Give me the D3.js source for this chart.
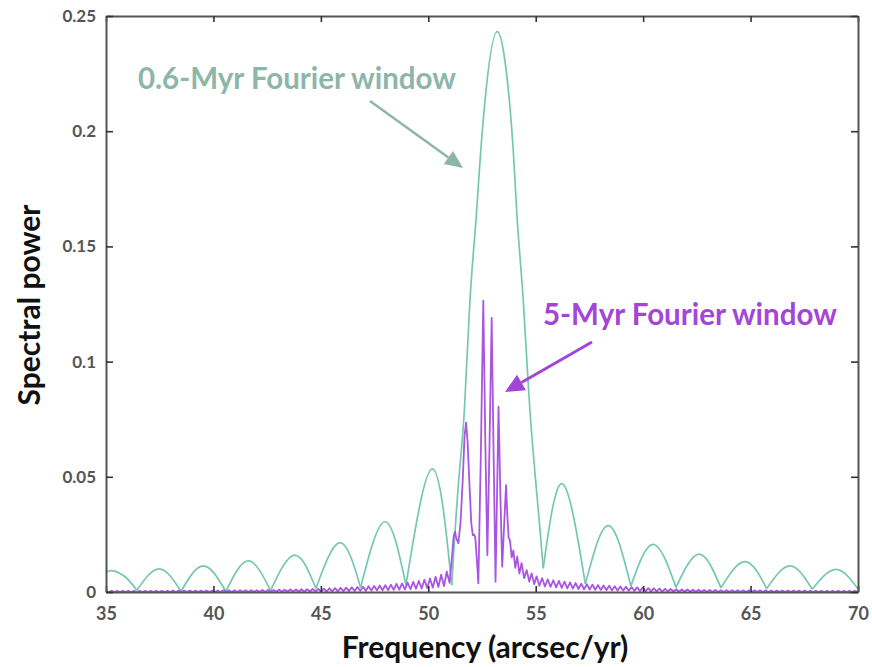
<!DOCTYPE html>
<html><head><meta charset="utf-8">
<script src="https://cdn.jsdelivr.net/npm/d3@7"></script>
<style>body{margin:0;background:#fff}svg{display:block}</style>
</head><body><svg id="c" width="872" height="667"></svg>
<script>
// ---------- data ----------
const xTicks = [35, 40, 45, 50, 55, 60, 65, 70];
const xTickLabels = ["35", "40", "45", "50", "55", "60", "65", "70"];
const yTicks = [0, 0.05, 0.1, 0.15, 0.2, 0.25];
const yTickLabels = ["0", "0.05", "0.1", "0.15", "0.2", "0.25"];

// 0.6-Myr window spectrum: lobes between successive minima [freq, power]
const greenLobes = [
  [[35.0,.0086],[35.33,.0092],[35.9,.0065],[36.43,.0008]],
  [[36.43,.0008],[37.48,.0100],[38.49,.0003]],
  [[38.49,.0003],[39.53,.0113],[40.58,.0003]],
  [[40.58,.0003],[41.62,.0135],[42.66,.0006]],
  [[42.66,.0006],[43.78,.0160],[44.77,.0015]],
  [[44.77,.0015],[45.89,.0214],[46.85,.0020]],
  [[46.85,.0020],[47.98,.0305],[48.96,.0030]],
  [[48.96,.0030],[50.19,.0534],[51.09,.0030]],
  [[51.09,.0030],[51.21,.0210],[51.43,.0500],[51.68,.0790],[51.94,.1267],[52.22,.1615],[52.56,.2050],[53.21,.2432],[53.85,.2050],[54.14,.1615],[54.42,.1267],[54.73,.0790],[55.12,.0356],[55.35,.0103]],
  [[55.35,.0103],[56.24,.0470],[57.31,.0035]],
  [[57.31,.0035],[58.38,.0288],[59.43,.0026]],
  [[59.43,.0026],[60.47,.0207],[61.53,.0020]],
  [[61.53,.0020],[62.61,.0164],[63.62,.0018]],
  [[63.62,.0018],[64.74,.0132],[65.75,.0015]],
  [[65.75,.0015],[66.84,.0113],[67.87,.0012]],
  [[67.87,.0012],[68.97,.0098],[70.0,.0013]]
];

// 5-Myr window spectrum [freq, power]
const purpleTailLeft = [
  [35.00,.0005],[35.13,0],[35.26,.0005],[35.39,0],[35.52,.0005],[35.65,0],[35.78,.0005],[35.91,0],
  [36.04,.0005],[36.17,0],[36.30,.0005],[36.43,0],[36.56,.0005],[36.69,0],[36.82,.0005],[36.95,0],
  [37.08,.0005],[37.21,0],[37.34,.0005],[37.47,0],[37.60,.0005],[37.73,0],[37.86,.0005],[37.99,0],
  [38.12,.0006],[38.25,0],[38.38,.0006],[38.51,0],[38.64,.0006],[38.77,0],[38.90,.0006],[39.03,0],
  [39.16,.0006],[39.29,0],[39.42,.0006],[39.55,0],[39.68,.0006],[39.81,0],[39.94,.0006],[40.07,0],
  [40.20,.0006],[40.33,0],[40.46,.0007],[40.59,0],[40.72,.0007],[40.85,0],[40.98,.0007],[41.11,0],
  [41.24,.0008],[41.37,0],[41.50,.0008],[41.63,0],[41.76,.0008],[41.89,0],[42.02,.0008],[42.15,0],
  [42.28,.0009],[42.41,0],[42.54,.0009],[42.67,0],[42.80,.0009],[42.93,.0001],[43.06,.0010],[43.19,.0001],
  [43.32,.0010],[43.45,.0001],[43.58,.0011],[43.71,.0001],[43.84,.0011],[43.97,.0001],[44.10,.0012],[44.23,.0001],
  [44.36,.0012],[44.49,.0002],[44.62,.0013],[44.75,.0002],[44.88,.0014],[45.01,.0002],[45.14,.0015],[45.27,.0002],
  [45.40,.0016],[45.53,.0003],[45.66,.0017],[45.79,.0003],[45.92,.0018],[46.05,.0003],[46.18,.0019],[46.31,.0004],
  [46.44,.0020],[46.57,.0004],[46.70,.0022],[46.83,.0005],[46.96,.0023],[47.09,.0005],[47.22,.0025],[47.35,.0006],
  [47.48,.0026],[47.61,.0007],[47.74,.0028],[47.87,.0007],[48.00,.0030],[48.13,.0008],[48.26,.0032],[48.39,.0009],
  [48.52,.0035],[48.65,.0010],[48.78,.0037],[48.91,.0011],[49.04,.0040],[49.17,.0012],[49.30,.0044],[49.43,.0014],
  [49.56,.0048],[49.69,.0015],[49.82,.0053],[49.95,.0017],[50.08,.0059],[50.21,.0019],[50.34,.0066],[50.47,.0022],
  [50.60,.0075],[50.73,.0026],[50.86,.0088]
];
const purpleCore = [
  [50.99,.0040],[51.10,.0150],[51.18,.0240],[51.24,.0262],[51.31,.0232],[51.40,.0212],[51.50,.0300],[51.60,.0480],
  [51.69,.0680],[51.76,.0735],[51.83,.0650],[51.91,.0480],[52.00,.0300],[52.07,.0247],[52.13,.0250],[52.19,.0235],
  [52.26,.0140],[52.33,.0038],[52.45,.0620],[52.56,.1264],[52.66,.0620],[52.75,.0160],[52.85,.0640],[52.95,.1190],
  [53.04,.0600],[53.13,.0045],[53.20,.0420],[53.27,.0804],[53.35,.0440],[53.44,.0110],[53.53,.0290],[53.62,.0464],
  [53.68,.0330],[53.74,.0235],[53.80,.0226],[53.88,.0150],[53.96,.0180],[54.05,.0105],[54.14,.0153],[54.24,.0080],
  [54.34,.0125],[54.46,.0060],[54.58,.0095],[54.70,.0045],[54.81,.0081],[54.93,.0034],[55.04,.0068],[55.17,.0027],
  [55.30,.0060]
];
const purpleTailRight = [
  [55.43,.0024],[55.56,.0055],[55.69,.0022],[55.82,.0051],[55.95,.0020],[56.08,.0048],[56.21,.0018],[56.34,.0045],
  [56.47,.0016],[56.60,.0042],[56.73,.0015],[56.86,.0039],[56.99,.0013],[57.12,.0036],[57.25,.0012],[57.38,.0034],
  [57.51,.0011],[57.64,.0032],[57.77,.0010],[57.90,.0030],[58.03,.0009],[58.16,.0028],[58.29,.0008],[58.42,.0027],
  [58.55,.0007],[58.68,.0025],[58.81,.0006],[58.94,.0024],[59.07,.0006],[59.20,.0023],[59.33,.0005],[59.46,.0022],
  [59.59,.0005],[59.72,.0020],[59.85,.0004],[59.98,.0019],[60.11,.0004],[60.24,.0017],[60.37,.0003],[60.50,.0016],
  [60.63,.0003],[60.76,.0015],[60.89,.0002],[61.02,.0014],[61.15,.0002],[61.28,.0013],[61.41,.0002],[61.54,.0012],
  [61.67,.0001],[61.80,.0011],[61.93,.0001],[62.06,.0011],[62.19,.0001],[62.32,.0010],[62.45,0],[62.58,.0010],
  [62.71,0],[62.84,.0009],[62.97,0],[63.10,.0009],[63.23,0],[63.36,.0009],[63.49,0],[63.62,.0008],
  [63.75,0],[63.88,.0008],[64.01,0],[64.14,.0008],[64.27,0],[64.40,.0008],[64.53,0],[64.66,.0007],
  [64.79,0],[64.92,.0007],[65.05,0],[65.18,.0007],[65.31,0],[65.44,.0007],[65.57,0],[65.70,.0007],
  [65.83,0],[65.96,.0006],[66.09,0],[66.22,.0006],[66.35,0],[66.48,.0006],[66.61,0],[66.74,.0006],
  [66.87,0],[67.00,.0006],[67.13,0],[67.26,.0006],[67.39,0],[67.52,.0006],[67.65,0],[67.78,.0005],
  [67.91,0],[68.04,.0005],[68.17,0],[68.30,.0005],[68.43,0],[68.56,.0005],[68.69,0],[68.82,.0005],
  [68.95,0],[69.08,.0005],[69.21,0],[69.34,.0005],[69.47,0],[69.60,.0005],[69.73,0],[69.86,.0005],
  [69.99,0]
];
const purpleSeries = purpleTailLeft.concat(purpleCore, purpleTailRight);

const xTitle = "Frequency (arcsec/yr)";
const yTitle = "Spectral power";
const greenLabel = "0.6-Myr Fourier window";
const purpleLabel = "5-Myr Fourier window";

// ---------- drawing ----------
const svg = d3.select("#c");
const x = d3.scaleLinear().domain([35, 70]).range([106, 858]);
const y = d3.scaleLinear().domain([0, 0.25]).range([592, 16]);

const FONT = "Lato, 'Open Sans', sans-serif";
const GREEN = "#76c7b2", GREEN_TXT = "#8db6a9", PURPLE = "#a955e0", PURPLE_TXT = "#a445d8";

// green curve (each lobe a natural spline segment)
const gLine = d3.line().x(d => x(d[0])).y(d => y(d[1])).curve(d3.curveNatural);
svg.append("g").selectAll("path").data(greenLobes).join("path")
  .attr("d", gLine).attr("fill", "none").attr("stroke", GREEN).attr("stroke-width", 1.7);

// purple curve
const pLine = d3.line().x(d => x(d[0])).y(d => y(d[1]));
svg.append("path").datum(purpleSeries).attr("d", pLine)
  .attr("fill", "none").attr("stroke", PURPLE).attr("stroke-width", 1.8)
  .attr("stroke-linejoin", "round");

// axes (inward ticks, mirrored)
function styleAxis(g) {
  g.select(".domain").attr("stroke", "#555").attr("stroke-width", 2);
  g.selectAll(".tick line").attr("stroke", "#333").attr("stroke-width", 1.6);
  g.selectAll(".tick text").attr("fill", "#555").attr("font-family", FONT).attr("font-weight", 700);
}
svg.append("g").attr("transform", "translate(0,592)")
  .call(d3.axisBottom(x).tickValues(xTicks).tickFormat((d, i) => xTickLabels[i]).tickSize(-6).tickSizeOuter(0).tickPadding(15))
  .call(styleAxis).selectAll(".tick text").attr("font-size", 18);
svg.append("g").attr("transform", "translate(0,16)")
  .call(d3.axisTop(x).tickValues(xTicks).tickFormat("").tickSize(-6).tickSizeOuter(0))
  .call(styleAxis);
svg.append("g").attr("transform", "translate(106,0)")
  .call(d3.axisLeft(y).tickValues(yTicks).tickFormat((d, i) => yTickLabels[i]).tickSize(-7).tickSizeOuter(0).tickPadding(10))
  .call(styleAxis).selectAll(".tick text").attr("font-size", 17);
svg.append("g").attr("transform", "translate(858,0)")
  .call(d3.axisRight(y).tickValues(yTicks).tickFormat("").tickSize(-7).tickSizeOuter(0))
  .call(styleAxis);

// axis titles
svg.append("text").attr("x", 485).attr("y", 658).attr("text-anchor", "middle")
  .attr("font-family", FONT).attr("font-weight", 700).attr("font-size", 30).attr("fill", "#111")
  .text(xTitle);
svg.append("text").attr("transform", "translate(40,305) rotate(-90)").attr("text-anchor", "middle")
  .attr("font-family", FONT).attr("font-weight", 700).attr("font-size", 30).attr("fill", "#111")
  .text(yTitle);

// annotations
function arrow(x1, y1, x2, y2, color, w, len, half) {
  const a = Math.atan2(y2 - y1, x2 - x1);
  const bx = x2 - len * Math.cos(a), by = y2 - len * Math.sin(a);
  svg.append("line").attr("x1", x1).attr("y1", y1).attr("x2", bx).attr("y2", by)
    .attr("stroke", color).attr("stroke-width", w);
  const p = [[x2, y2],
    [bx + half * Math.sin(a), by - half * Math.cos(a)],
    [bx - half * Math.sin(a), by + half * Math.cos(a)]];
  svg.append("polygon").attr("points", p.map(q => q.join(",")).join(" ")).attr("fill", color);
}
svg.append("text").attr("x", 138).attr("y", 89)
  .attr("font-family", FONT).attr("font-weight", 700).attr("font-size", 29.5).attr("fill", GREEN_TXT)
  .text(greenLabel);
arrow(370, 101, 463, 168, GREEN_TXT, 2.5, 18, 8);

svg.append("text").attr("x", 543).attr("y", 325)
  .attr("font-family", FONT).attr("font-weight", 700).attr("font-size", 29.5).attr("fill", PURPLE_TXT)
  .text(purpleLabel);
arrow(592, 342, 505, 392, PURPLE_TXT, 3, 19, 9);
</script>
</body></html>
